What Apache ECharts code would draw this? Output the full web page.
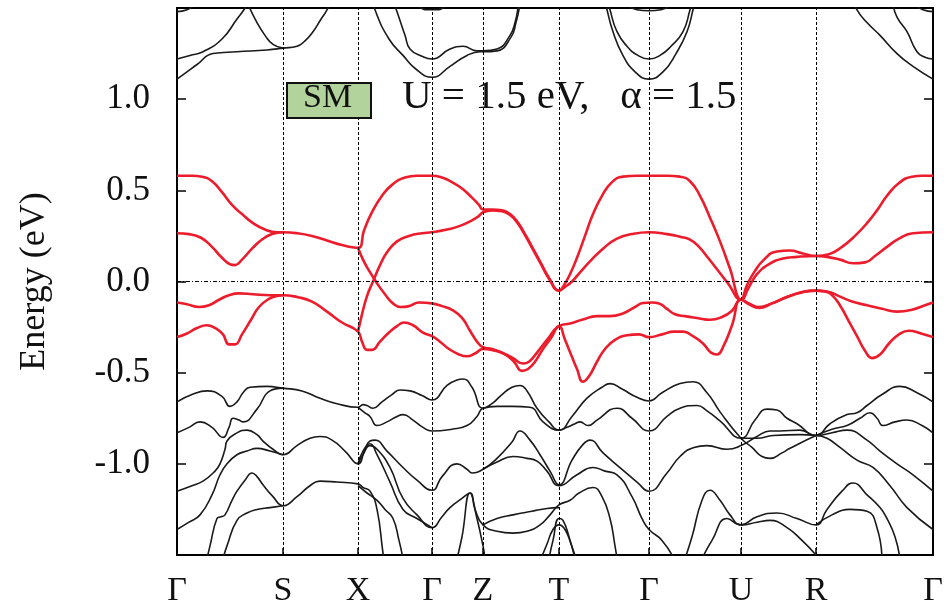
<!DOCTYPE html>
<html>
<head>
<meta charset="utf-8">
<script src="https://cdn.jsdelivr.net/npm/echarts@6/dist/echarts.min.js"></script>
<style>
html,body{margin:0;padding:0;background:#fff;}
#chart{width:947px;height:608px;}
</style>
</head>
<body>
<div id="chart"></div>
<script>
// High-symmetry k-points (path distance) and their labels
const kPos = [0, 106, 181, 255, 306, 382, 472, 564, 639, 756];
const kLabels = ['Γ', 'S', 'X', 'Γ', 'Z', 'T', 'Γ', 'U', 'R', 'Γ'];
const yTickValues = [-1.0, -0.5, 0.0, 0.5, 1.0];

// Red bands near Fermi level: [k, E(eV)]
const red1 = [[0,0.58],[15,0.58],[25,0.575],[35,0.55],[45,0.49],[55,0.42],[65,0.37],[76,0.32],[88,0.285],[100,0.27],[106,0.27],[120,0.265],[135,0.25],[150,0.225],[165,0.2],[181,0.185],[187,0.28],[195,0.38],[205,0.47],[215,0.53],[228,0.57],[240,0.58],[255,0.58],[265,0.57],[275,0.545],[285,0.51],[295,0.46],[302,0.42],[306,0.395],[315,0.395],[325,0.39],[333,0.37],[340,0.33],[348,0.26],[356,0.18],[364,0.10],[372,0.02],[382,-0.05],[387,-0.02],[393,0.04],[400,0.13],[408,0.25],[416,0.37],[425,0.47],[435,0.545],[446,0.575],[460,0.58],[472,0.58],[490,0.58],[503,0.575],[513,0.55],[523,0.47],[533,0.35],[543,0.22],[553,0.07],[564,-0.10],[570,-0.02],[577,0.05],[587,0.12],[600,0.165],[613,0.17],[625,0.155],[639,0.14],[652,0.15],[665,0.19],[678,0.25],[690,0.32],[700,0.39],[710,0.47],[722,0.54],[735,0.575],[745,0.58],[756,0.58]];
const red2 = [[0,0.265],[12,0.26],[24,0.24],[35,0.19],[45,0.13],[53,0.095],[58,0.09],[65,0.12],[75,0.18],[85,0.23],[95,0.26],[106,0.27]];
const red3 = [[181,0.185],[186,0.12],[192,0.06],[200,-0.01],[208,-0.07],[216,-0.12],[224,-0.14],[232,-0.135],[242,-0.115],[255,-0.12],[265,-0.135],[275,-0.155],[285,-0.2],[293,-0.27],[300,-0.33],[306,-0.36],[315,-0.37],[325,-0.39],[336,-0.42],[346,-0.45],[352,-0.44],[360,-0.39],[370,-0.32],[382,-0.245],[393,-0.23],[405,-0.21],[420,-0.19],[433,-0.19],[446,-0.175],[458,-0.14],[466,-0.118],[475,-0.115],[482,-0.12],[490,-0.15],[498,-0.18],[508,-0.19],[520,-0.2],[533,-0.21],[545,-0.195],[555,-0.16],[564,-0.10],[572,-0.12],[582,-0.14],[595,-0.12],[610,-0.085],[625,-0.058],[639,-0.05],[650,-0.055],[662,-0.08],[675,-0.11],[690,-0.13],[705,-0.15],[720,-0.165],[735,-0.155],[748,-0.13],[756,-0.115]];
const red4 = [[181,-0.275],[185,-0.18],[190,-0.08],[196,0.0],[203,0.09],[210,0.16],[220,0.22],[232,0.25],[245,0.265],[255,0.27],[270,0.285],[283,0.305],[295,0.335],[302,0.36],[306,0.38],[315,0.39],[325,0.385],[333,0.365],[340,0.325],[348,0.255],[356,0.175],[364,0.095],[372,0.015],[382,-0.05],[388,-0.03],[395,0.0],[403,0.05],[413,0.11],[426,0.18],[440,0.235],[455,0.26],[472,0.27],[490,0.26],[503,0.245],[513,0.23],[522,0.19],[531,0.13],[541,0.06],[551,-0.01],[564,-0.10],[572,-0.03],[580,0.04],[592,0.095],[605,0.125],[620,0.135],[639,0.14],[650,0.135],[663,0.12],[676,0.10],[688,0.105],[698,0.14],[710,0.19],[722,0.235],[736,0.265],[756,0.27]];
const red5 = [[0,-0.115],[10,-0.125],[22,-0.14],[32,-0.13],[42,-0.1],[52,-0.075],[62,-0.065],[76,-0.07],[93,-0.075],[106,-0.075],[120,-0.085],[135,-0.11],[150,-0.165],[165,-0.225],[181,-0.275],[185,-0.33],[190,-0.375],[195,-0.375],[203,-0.33],[212,-0.28],[220,-0.245],[227,-0.225],[236,-0.24],[246,-0.28],[255,-0.30],[263,-0.33],[272,-0.37],[282,-0.40],[290,-0.41],[298,-0.395],[306,-0.37],[318,-0.38],[328,-0.40],[337,-0.44],[345,-0.49],[351,-0.48],[358,-0.44],[366,-0.37],[374,-0.31],[382,-0.245],[388,-0.32],[394,-0.40],[400,-0.48],[406,-0.55],[412,-0.52],[420,-0.44],[428,-0.37],[438,-0.32],[450,-0.295],[462,-0.29],[472,-0.305],[485,-0.29],[497,-0.275],[506,-0.275],[516,-0.30],[526,-0.34],[534,-0.39],[540,-0.40],[546,-0.36],[555,-0.24],[564,-0.10],[572,-0.125],[582,-0.145],[595,-0.12],[610,-0.085],[625,-0.06],[639,-0.05],[648,-0.055],[656,-0.08],[664,-0.14],[672,-0.22],[680,-0.30],[688,-0.38],[695,-0.42],[703,-0.40],[712,-0.34],[722,-0.29],[732,-0.27],[744,-0.285],[756,-0.305]];
const red6 = [[0,-0.305],[10,-0.285],[20,-0.255],[30,-0.24],[38,-0.255],[46,-0.29],[52,-0.345],[58,-0.345],[65,-0.29],[74,-0.21],[82,-0.14],[92,-0.095],[100,-0.08],[106,-0.075]];

// Black bands (conduction, upper)
const blk1 = [[0,1.11],[10,1.15],[20,1.19],[36,1.25],[60,1.26],[90,1.27],[106,1.28],[120,1.29],[128,1.32],[136,1.37],[143,1.43],[150,1.49],[152,1.52]];
const blk2 = [[0,1.22],[13,1.24],[26,1.26],[45,1.33],[60,1.44],[68,1.50],[72,1.55]];
const blk3 = [[71,1.52],[80,1.42],[88,1.35],[96,1.30],[106,1.28]];
const blk4 = [[215,1.55],[220,1.48],[228,1.35],[233,1.275],[245,1.235],[255,1.22],[273,1.275],[286,1.29],[300,1.265],[306,1.265],[320,1.275],[333,1.35],[338,1.42],[341,1.50],[342,1.55]];
const blk5 = [[196,1.55],[198,1.49],[212,1.33],[226,1.24],[240,1.16],[255,1.12],[273,1.18],[290,1.24],[303,1.26],[306,1.26],[320,1.265],[334,1.34],[339,1.42],[343,1.52]];
const blk6 = [[432,1.52],[433,1.49],[440,1.37],[450,1.29],[461,1.24],[472,1.22],[483,1.24],[494,1.29],[506,1.37],[513,1.49],[514,1.52]];
const blk7 = [[429,1.52],[430,1.49],[436,1.37],[445,1.25],[458,1.15],[472,1.11],[486,1.15],[499,1.25],[510,1.37],[516,1.49],[517,1.52]];
const blk8 = [[676,1.55],[680,1.49],[690,1.42],[703,1.35],[720,1.25],[736,1.18],[756,1.11]];
const blk9 = [[716,1.52],[720,1.45],[730,1.37],[740,1.26],[748,1.23],[756,1.22]];
const blk10 = [[450,1.52],[460,1.49],[472,1.485],[484,1.49],[494,1.52]];
const blk11 = [[240,1.52],[250,1.49],[260,1.49],[270,1.52]];
const blk32 = [[0,1.48],[10,1.49],[18,1.52]];
const blk33 = [[738,1.52],[746,1.49],[756,1.48]];

// Black bands (valence, lower)
const blk12 = [[0,-0.66],[15,-0.62],[30,-0.60],[45,-0.63],[53,-0.685],[60,-0.66],[66,-0.61],[73,-0.58],[90,-0.575],[106,-0.585],[125,-0.60],[143,-0.64],[160,-0.67],[181,-0.69],[186,-0.675],[190,-0.68],[196,-0.695],[205,-0.66],[215,-0.62],[223,-0.595],[233,-0.60],[245,-0.625],[255,-0.65],[270,-0.57],[280,-0.54],[286,-0.535],[295,-0.58],[306,-0.695],[315,-0.67],[325,-0.62],[335,-0.58],[343,-0.57],[350,-0.60],[360,-0.695],[372,-0.77],[382,-0.815],[390,-0.80],[398,-0.78],[403,-0.77],[411,-0.79],[420,-0.76],[440,-0.695],[455,-0.75],[472,-0.82],[490,-0.74],[503,-0.695],[520,-0.68],[530,-0.71],[543,-0.765],[564,-0.86],[578,-0.76],[590,-0.70],[600,-0.705],[610,-0.75],[620,-0.78],[639,-0.845],[653,-0.78],[670,-0.73],[680,-0.72],[690,-0.68],[705,-0.62],[723,-0.575],[740,-0.61],[756,-0.66]];
const blk13 = [[0,-0.83],[12,-0.80],[23,-0.77],[35,-0.80],[46,-0.855],[52,-0.80],[56,-0.75],[62,-0.76],[66,-0.77],[80,-0.70],[93,-0.60],[106,-0.585]];
const blk14 = [[181,-0.69],[188,-0.72],[193,-0.74],[200,-0.79],[210,-0.77],[220,-0.74],[226,-0.73],[236,-0.76],[246,-0.80],[255,-0.82],[275,-0.81],[290,-0.79],[300,-0.74],[306,-0.695],[320,-0.685],[335,-0.685],[353,-0.69],[366,-0.77],[382,-0.815],[395,-0.74],[410,-0.64],[425,-0.58],[433,-0.56],[445,-0.59],[460,-0.635],[472,-0.655],[485,-0.61],[503,-0.56],[516,-0.55],[530,-0.61],[543,-0.715],[564,-0.86],[575,-0.91],[585,-0.96],[593,-0.97],[605,-0.94],[613,-0.915],[639,-0.845],[655,-0.81],[670,-0.79],[683,-0.75],[693,-0.72],[700,-0.75],[706,-0.79],[718,-0.77],[730,-0.76],[745,-0.79],[756,-0.83]];
const blk15 = [[0,-1.15],[15,-1.12],[26,-1.095],[38,-1.04],[43,-1.0],[48,-0.92],[50,-0.875],[60,-0.83],[70,-0.815],[80,-0.84],[86,-0.875],[96,-0.92],[106,-0.95],[120,-0.90],[133,-0.86],[143,-0.85],[155,-0.87],[168,-0.93],[181,-1.0],[188,-0.92],[193,-0.875],[198,-0.87],[210,-0.93],[226,-1.02],[240,-1.09],[255,-1.145],[265,-1.07],[280,-1.0],[290,-1.03],[295,-1.05],[306,-1.03],[320,-0.97],[335,-0.88],[343,-0.82],[353,-0.87],[363,-0.95],[373,-1.04],[382,-1.115],[395,-0.98],[405,-0.90],[413,-0.87],[426,-0.94],[445,-1.03],[460,-1.10],[472,-1.15],[490,-1.05],[503,-0.96],[517,-0.91],[530,-0.90],[550,-0.92],[564,-0.90],[580,-0.85],[593,-0.82],[603,-0.82],[623,-0.815],[639,-0.845],[655,-0.83],[670,-0.815],[690,-0.87],[703,-0.93],[720,-1.0],[736,-1.06],[756,-1.15]];
const blk16 = [[0,-1.36],[12,-1.32],[23,-1.28],[35,-1.17],[43,-1.06],[50,-1.0],[60,-0.95],[70,-0.93],[80,-0.915],[93,-0.93],[106,-0.95]];
const blk17 = [[181,-1.0],[186,-0.95],[193,-0.90],[200,-0.92],[213,-1.02],[226,-1.19],[240,-1.28],[255,-1.35],[265,-1.29],[273,-1.24],[285,-1.19],[293,-1.16],[298,-1.25],[306,-1.335],[320,-1.37],[336,-1.38],[350,-1.37],[363,-1.335],[373,-1.28],[382,-1.225],[393,-1.20],[402,-1.16],[416,-1.13],[425,-1.18],[433,-1.30],[438,-1.45],[440,-1.52]];
const blk18 = [[306,-1.03],[320,-0.99],[336,-0.96],[350,-0.97],[360,-0.985],[370,-1.04],[382,-1.12],[400,-1.06],[416,-1.02],[428,-1.04],[440,-1.06],[455,-1.18],[465,-1.30],[472,-1.36],[485,-1.42],[497,-1.52]];
const blk19 = [[30,-1.52],[33,-1.45],[40,-1.30],[44,-1.29],[48,-1.28],[55,-1.20],[60,-1.15],[68,-1.09],[75,-1.05],[80,-1.07],[86,-1.115],[96,-1.18],[106,-1.23],[120,-1.18],[133,-1.12],[143,-1.095],[160,-1.10],[181,-1.11],[186,-1.13],[193,-1.15],[200,-1.25],[206,-1.49],[207,-1.52]];
const blk20 = [[46,-1.52],[50,-1.45],[60,-1.31],[70,-1.27],[80,-1.25],[93,-1.24],[106,-1.23]];
const blk21 = [[181,-1.12],[190,-1.16],[200,-1.20],[208,-1.25],[216,-1.30],[222,-1.42],[226,-1.52]];
const blk22 = [[280,-1.52],[285,-1.40],[293,-1.16],[300,-1.30],[306,-1.45],[308,-1.52]];
const blk23 = [[306,-1.335],[320,-1.30],[336,-1.28],[355,-1.26],[370,-1.245],[382,-1.24]];
const blk24 = [[364,-1.52],[370,-1.44],[376,-1.36],[382,-1.335],[388,-1.36],[394,-1.44],[399,-1.52]];
const blk25 = [[372,-1.52],[376,-1.42],[382,-1.30],[386,-1.31],[392,-1.40],[398,-1.52]];
const blk26 = [[508,-1.52],[515,-1.40],[525,-1.20],[533,-1.145],[543,-1.20],[553,-1.28],[564,-1.335],[580,-1.29],[600,-1.27],[620,-1.30],[639,-1.335],[650,-1.25],[665,-1.15],[676,-1.105],[690,-1.17],[703,-1.24],[710,-1.30],[718,-1.40],[723,-1.52]];
const blk27 = [[525,-1.52],[535,-1.42],[550,-1.30],[564,-1.335],[580,-1.32],[593,-1.31],[610,-1.35],[625,-1.42],[639,-1.50]];
const blk28 = [[639,-1.335],[655,-1.28],[673,-1.25],[690,-1.26],[700,-1.35],[705,-1.52]];
const blk29 = [[181,-1.0],[186,-0.93],[193,-0.89],[200,-0.95],[213,-1.10],[226,-1.25],[240,-1.30],[255,-1.35]];
const blk30 = [[639,-0.845],[650,-0.86],[663,-0.91],[680,-0.98],[696,-1.02],[713,-1.12],[730,-1.24],[756,-1.36]];
const blk31 = [[564,-0.86],[580,-0.86],[596,-0.845],[623,-0.84],[639,-0.845]];

const redBands = [red1, red2, red3, red4, red5, red6];
const blackBands = [blk1, blk2, blk3, blk4, blk5, blk6, blk7, blk8, blk9, blk10, blk11, blk12, blk13, blk14, blk15, blk16, blk17, blk18, blk19, blk20, blk21, blk22, blk23, blk24, blk25, blk26, blk27, blk28, blk29, blk30, blk31, blk32, blk33];

const SERIF = '"Liberation Serif", "DejaVu Serif", serif';
const chart = echarts.init(document.getElementById('chart'), null, {renderer: 'canvas'});

const series = [];
blackBands.forEach(b => series.push({
  type: 'line', data: b, showSymbol: false, smooth: 0.5, clip: true,
  lineStyle: {color: '#1a1a1a', width: 1.6}, z: 3, silent: true
}));
redBands.forEach(b => series.push({
  type: 'line', data: b, showSymbol: false, smooth: 0.5, clip: true,
  lineStyle: {color: '#ec1c2c', width: 2.6}, z: 4, silent: true
}));
// guide lines
series.push({
  type: 'line', data: [], silent: true, z: 2,
  markLine: {
    symbol: 'none', silent: true, label: {show: false},
    lineStyle: {color: '#000', width: 1, type: [3, 2]},
    data: kPos.slice(1, -1).map(v => ({xAxis: v})).concat([{yAxis: 0, lineStyle: {type: [4, 2, 1, 2]}}])
  }
});

chart.setOption({
  animation: false,
  backgroundColor: '#fff',
  grid: {left: 177, right: 14, top: 8, bottom: 52, show: true, borderColor: '#000', borderWidth: 2},
  xAxis: [{
    type: 'value', min: 0, max: 756,
    axisLine: {show: true, onZero: false, lineStyle: {color: '#000', width: 2}},
    splitLine: {show: false},
    axisTick: {show: true, inside: true, length: 7, customValues: kPos, lineStyle: {color: '#000', width: 1.5}},
    axisLabel: {
      customValues: kPos, margin: 19, color: '#111',
      fontFamily: SERIF, fontSize: 34,
      formatter: v => { const i = kPos.indexOf(v); return i >= 0 ? kLabels[i] : ''; }
    }
  }],
  yAxis: [{
    type: 'value', min: -1.5, max: 1.5, interval: 0.5,
    name: 'Energy (eV)', nameLocation: 'middle', nameGap: 124, nameRotate: 90,
    nameTextStyle: {fontFamily: SERIF, fontSize: 36, color: '#111'},
    axisLine: {show: true, onZero: false, lineStyle: {color: '#000', width: 2}},
    splitLine: {show: false},
    axisTick: {show: true, inside: true, length: 9, customValues: yTickValues, lineStyle: {color: '#000', width: 1.5}},
    axisLabel: {
      customValues: yTickValues, margin: 27, color: '#111', fontFamily: SERIF, fontSize: 35,
      formatter: v => v.toFixed(1)
    }
  }, {
    type: 'value', min: -1.5, max: 1.5, interval: 0.5, position: 'right',
    axisLine: {show: true, onZero: false, lineStyle: {color: '#000', width: 2}},
    splitLine: {show: false},
    axisTick: {show: true, inside: true, length: 9, customValues: yTickValues, lineStyle: {color: '#000', width: 1.5}},
    axisLabel: {show: false}
  }],
  graphic: [
    {type: 'rect', left: 286, top: 82, shape: {width: 84, height: 35}, z: 10,
     style: {fill: '#b2d49c', stroke: '#111', lineWidth: 2}},
    {type: 'text', left: 303, top: 81, z: 11,
     style: {text: 'SM', fontFamily: SERIF, fontSize: 34, fill: '#111'}},
    {type: 'text', left: 402, top: 77, z: 11,
     style: {text: 'U = 1.5 eV,   α = 1.5', fontFamily: SERIF, fontSize: 41, fill: '#111'}}
  ],
  series: series
});
</script>
</body>
</html>
